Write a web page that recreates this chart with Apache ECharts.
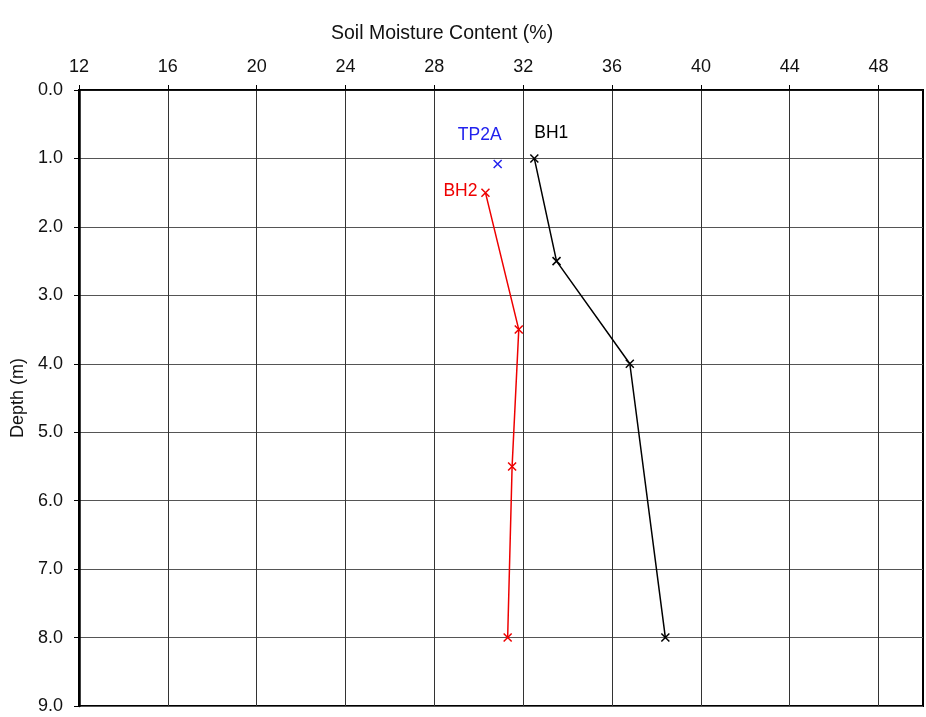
<!DOCTYPE html>
<html>
<head>
<meta charset="utf-8">
<style>html,body{margin:0;padding:0;background:#fff}#c{width:926px;height:717px}</style>
<script src="https://cdn.jsdelivr.net/npm/echarts@6/dist/echarts.min.js"></script>
</head>
<body>
<div id="c"></div>
<script>
const xTicks = [12, 16, 20, 24, 28, 32, 36, 40, 44, 48];
const yTicks = [0, 1, 2, 3, 4, 5, 6, 7, 8, 9];
const bh1Depth = [1.0, 2.5, 4.0, 8.0];
const bh1Moist = [32.5, 33.5, 36.8, 38.4];
const bh2Depth = [1.5, 3.5, 5.5, 8.0];
const bh2Moist = [30.3, 31.8, 31.5, 31.3];
const tp2aDepth = [1.08];
const tp2aMoist = [30.85];

const FONT = 'Liberation Sans';
const cross = 'path://M0,0L10,10M10,0L0,10';
function pts(xs, ys) { return xs.map((v, i) => [v, ys[i]]); }
function mk(name, xs, ys, color, offset) {
  return {
    type: 'line', name: name, data: pts(xs, ys),
    symbol: cross, symbolSize: 8, showAllSymbol: true,
    lineStyle: { color: color, width: 1.5 },
    itemStyle: { color: color, borderColor: color, borderWidth: 1.5 },
    label: {
      show: true, position: 'inside', offset: offset,
      formatter: p => p.dataIndex === 0 ? name : '',
      color: color, fontFamily: FONT, fontSize: 17.5
    },
    z: 5
  };
}
const chart = echarts.init(document.getElementById('c'));
chart.setOption({
  animation: false,
  backgroundColor: '#fff',
  title: {
    text: 'Soil Moisture Content (%)', left: 326, top: 19,
    textStyle: { fontFamily: FONT, fontSize: 19.5, fontWeight: 'normal', color: '#111' }
  },
  grid: { left: 79, top: 90, right: 3, bottom: 11, show: true, borderColor: '#000', borderWidth: 2 },
  xAxis: {
    type: 'value', position: 'top', min: 12, max: 50, interval: 4,
    axisLine: { show: true, lineStyle: { color: '#000', width: 1.5 } },
    axisTick: { show: true, inside: false, length: 5, customValues: xTicks, lineStyle: { color: '#000' } },
    axisLabel: { customValues: xTicks, margin: 14, fontFamily: FONT, fontSize: 18, color: '#111' },
    splitLine: { show: true, lineStyle: { color: '#333', width: 1 } }
  },
  yAxis: {
    type: 'value', inverse: true, min: 0, max: 9, interval: 1,
    name: 'Depth (m)', nameLocation: 'middle', nameGap: 52,
    nameTextStyle: { fontFamily: FONT, fontSize: 18, color: '#111' },
    axisLine: { show: true, lineStyle: { color: '#000', width: 2.5 } },
    axisTick: { show: true, length: 5, customValues: yTicks, lineStyle: { color: '#000' } },
    axisLabel: { customValues: yTicks, margin: 16, fontFamily: FONT, fontSize: 18, color: '#111',
      formatter: v => v.toFixed(1) },
    splitLine: { show: true, lineStyle: { color: '#555', width: 1 } }
  },
  series: [
    mk('BH1', bh1Moist, bh1Depth, '#000000', [17, -25]),
    mk('BH2', bh2Moist, bh2Depth, '#ee0000', [-25, -1]),
    mk('TP2A', tp2aMoist, tp2aDepth, '#2222ee', [-18, -29])
  ]
});
</script>
</body>
</html>
